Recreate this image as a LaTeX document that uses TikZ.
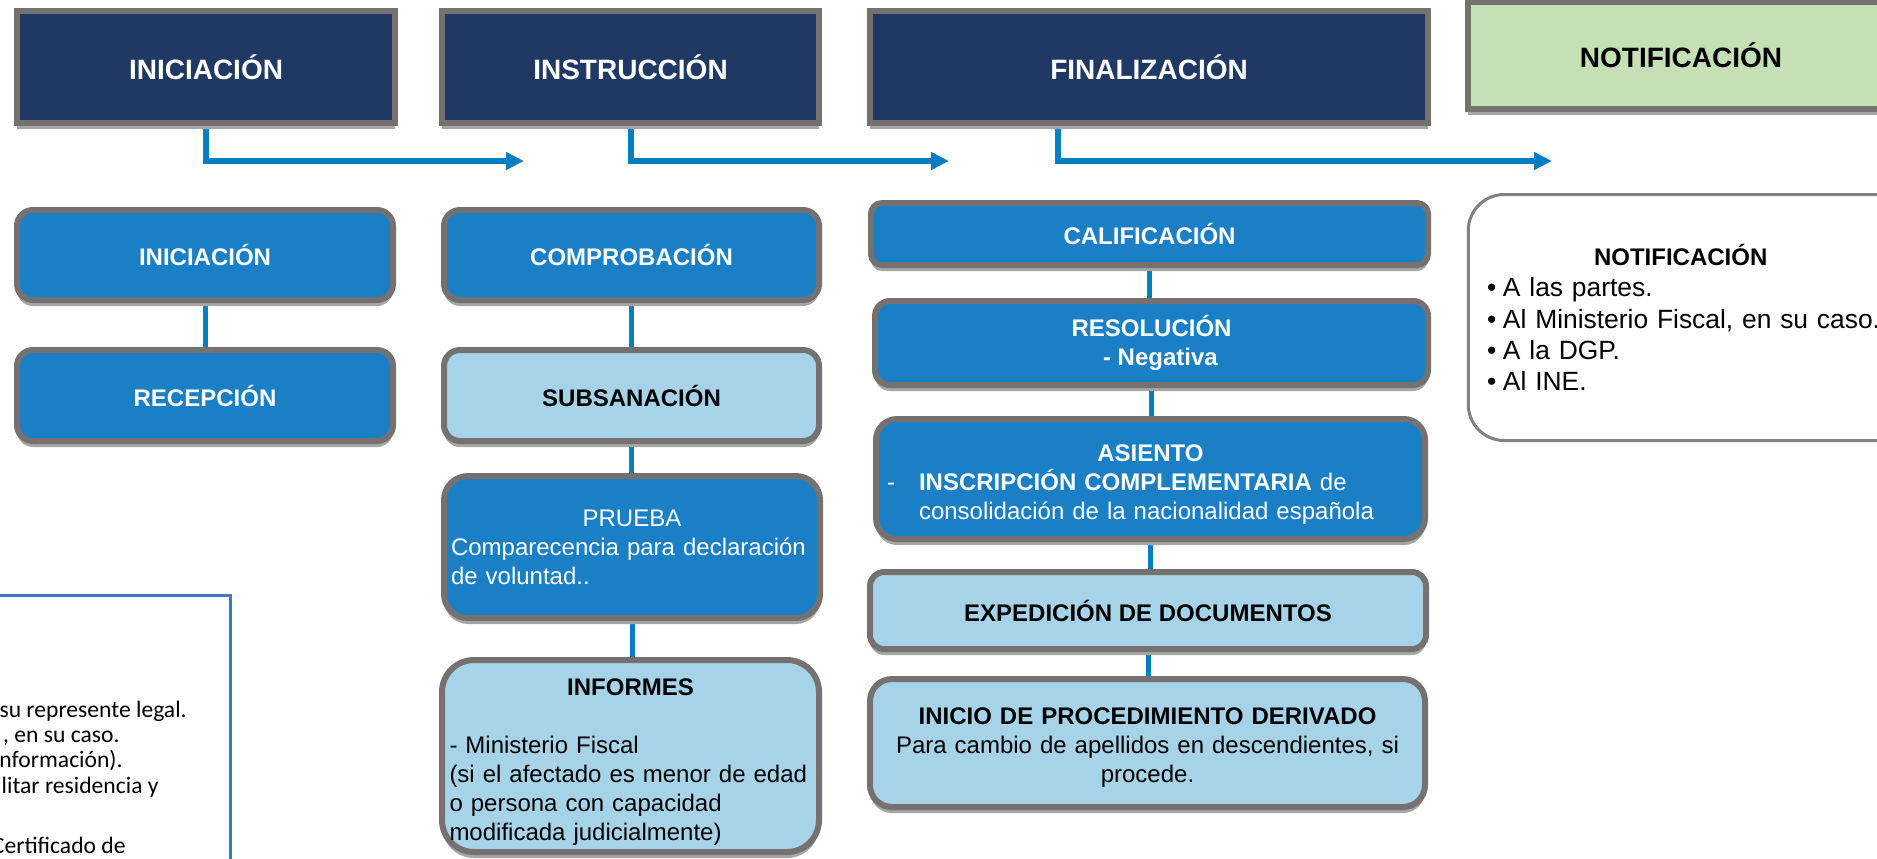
\documentclass[tikz,border=0pt]{standalone}
\usepackage{fontspec}
\setmainfont{Liberation Sans}
\newfontfamily\legendfont{Carlito}
\usepackage{tikz}
\usetikzlibrary{
	arrows.meta, positioning, calc, backgrounds, shadows
}
\definecolor{phasenavy}  {RGB}{ 32,  56, 100}
\definecolor{framegray}  {RGB}{118, 113, 113}
\definecolor{stepblue}   {RGB}{ 27, 127, 198}
\definecolor{steplight}  {RGB}{166, 211, 232}
\definecolor{notegreen}  {RGB}{197, 224, 180}
\definecolor{flowblue}   {RGB}{  0, 126, 193}
\definecolor{legendblue} {RGB}{ 68, 114, 196}
\definecolor{notegray}   {RGB}{128, 128, 128}

\begin{document}
\begin{tikzpicture}[x=0.5pt,y=-0.5pt,
	box/.style={draw=framegray,line width=3pt,inner sep=0pt,
		drop shadow={shadow xshift=0pt,shadow yshift=-3pt,fill=black!35,opacity=1}},
	phase/.style={box,font=\fontsize{14}{17}\selectfont\bfseries},
	stepbox/.style={box,fill=stepblue,text=white,font=\fontsize{12}{14.5}\selectfont},
	lightbox/.style={box,fill=steplight,text=black,font=\fontsize{12}{14.5}\selectfont},
	notebox/.style={draw=notegray,line width=1.5pt,fill=white,rounded corners=18pt,inner sep=0pt,
		font=\fontsize{13.2}{15.7}\selectfont},
	flow/.style={draw=flowblue,line width=3pt,-{Triangle[length=9pt,width=8.5pt]}},
	link/.style={draw=flowblue,line width=2.5pt},
	legendtext/.style={font=\legendfont\fontsize{11.8}{13}\selectfont,inner sep=0pt,anchor=base east}
]
\useasboundingbox (0,0) rectangle (1877,858);

% phases
\node[phase,fill=phasenavy,text=white,minimum width=189pt,minimum height=56pt] (top_ini) at (206,67) {INICIACIÓN};
\node[phase,fill=phasenavy,text=white,minimum width=188.5pt,minimum height=56pt] (top_ins) at (630.5,67) {INSTRUCCIÓN};
\node[phase,fill=phasenavy,text=white,minimum width=279pt,minimum height=56pt] (top_fin) at (1149,67) {FINALIZACIÓN};
\node[phase,fill=notegreen,minimum width=213.5pt,minimum height=53.5pt] (top_not) at (1681,55.5) {NOTIFICACIÓN};

% iniciacion
\node[stepbox,minimum width=188pt,minimum height=45pt,rounded corners=8pt] (s_ini) at (205,255) {\textbf{INICIACIÓN}};
\node[stepbox,minimum width=188pt,minimum height=45.5pt,rounded corners=8pt] (s_rec) at (205,395.5) {\textbf{RECEPCIÓN}};

% instruccion
\node[stepbox,minimum width=187.5pt,minimum height=45pt,rounded corners=8pt] (s_comp) at (631.5,255) {\textbf{COMPROBACIÓN}};
\node[lightbox,minimum width=187.5pt,minimum height=45.5pt,rounded corners=8pt] (s_sub) at (631.5,395.5) {\textbf{SUBSANACIÓN}};
\node[stepbox,minimum width=188pt,minimum height=71pt,rounded corners=12pt,text width=181pt,align=left] (s_pru) at (632,547)
	{\centering PRUEBA\par\raggedright\noindent Comparecencia para declaración\\de voluntad..};
\node[lightbox,minimum width=188.5pt,minimum height=96pt,rounded corners=16pt,text width=181pt,align=left] (s_inf) at (630.5,756)
	{\centering\textbf{INFORMES}\par\vspace{14.5pt}\raggedright\noindent - Ministerio Fiscal\\(si el afectado es menor de edad\\o persona con capacidad\\modificada judicialmente)\par\vspace{-6pt}};

% finalizacion
\node[stepbox,minimum width=278.5pt,minimum height=31pt,rounded corners=5.5pt] (s_cal) at (1149.5,234) {\textbf{CALIFICACIÓN}};
\node[stepbox,minimum width=276.5pt,minimum height=42pt,rounded corners=7.5pt,align=center] (s_res) at (1151.5,343)
	{\textbf{RESOLUCIÓN}\\\hspace*{9pt}\textbf{- Negativa}};
\node[stepbox,minimum width=274.5pt,minimum height=60pt,rounded corners=10.5pt,text width=263.5pt,align=left] (s_asi) at (1150.5,479)
	{\centering\textbf{ASIENTO}\par\raggedright\noindent\makebox[16pt][l]{-}\textbf{INSCRIPCIÓN COMPLEMENTARIA} de\\\hspace*{16pt}consolidación de la nacionalidad española\par\vspace{-6pt}};
\node[lightbox,minimum width=278pt,minimum height=38.5pt,rounded corners=7pt] (s_exp) at (1148,610.5) {\textbf{EXPEDICIÓN DE DOCUMENTOS}};
\node[lightbox,minimum width=277.5pt,minimum height=64pt,rounded corners=11pt,text width=265pt,align=center] (s_der) at (1147.5,743)
	{\textbf{INICIO DE PROCEDIMIENTO DERIVADO}\\Para cambio de apellidos en descendientes, si\\procede.\par\vspace{-5pt}};

% notificacion
\node[notebox,minimum width=225.75pt,minimum height=123pt,text width=207pt,align=left] (s_not) at (1694,317.5)
	{\raggedright\noindent\hspace*{53.5pt}{\fontsize{12}{15.7}\selectfont\bfseries NOTIFICACIÓN}\\
	\makebox[8pt][l]{•}A las partes.\\
	\makebox[8pt][l]{•}Al Ministerio Fiscal, en su caso.\\
	\makebox[8pt][l]{•}A la DGP.\\
	\makebox[8pt][l]{•}Al INE.};

% arrows and links
\coordinate (tip1) at (524,161);
\coordinate (tip2) at (949,161);
\coordinate (tip3) at (1552,161);
\begin{scope}[on background layer]
	\draw[flow] (top_ini.south) |- (tip1);
	\draw[flow] (top_ins.south) |- (tip2);
	\draw[flow] ([xshift=-45.5pt]top_fin.south) |- (tip3);
	\foreach \a/\b in {s_ini/s_rec, s_comp/s_sub, s_sub/s_pru, s_pru/s_inf,
		s_cal/s_res, s_res/s_asi, s_asi/s_exp, s_exp/s_der}
		\draw[link] (\a.south) -- (\a.south |- \b.north);
\end{scope}

% legend box, cut off at the edge
\draw[draw=legendblue,line width=1.5pt] (-10,595) rectangle (230,880);
\node[legendtext] (leg1) at (187,717) {su represente legal.};
\node[legendtext] (leg2) at (120,742) {, en su caso.};
\node[legendtext] (leg3) at (123,767) {nformación).};
\node[legendtext] (leg4) at (159,793) {litar residencia y};
\node[legendtext] (leg5) at (126,853) {Certificado de};
\end{tikzpicture}
\end{document}
